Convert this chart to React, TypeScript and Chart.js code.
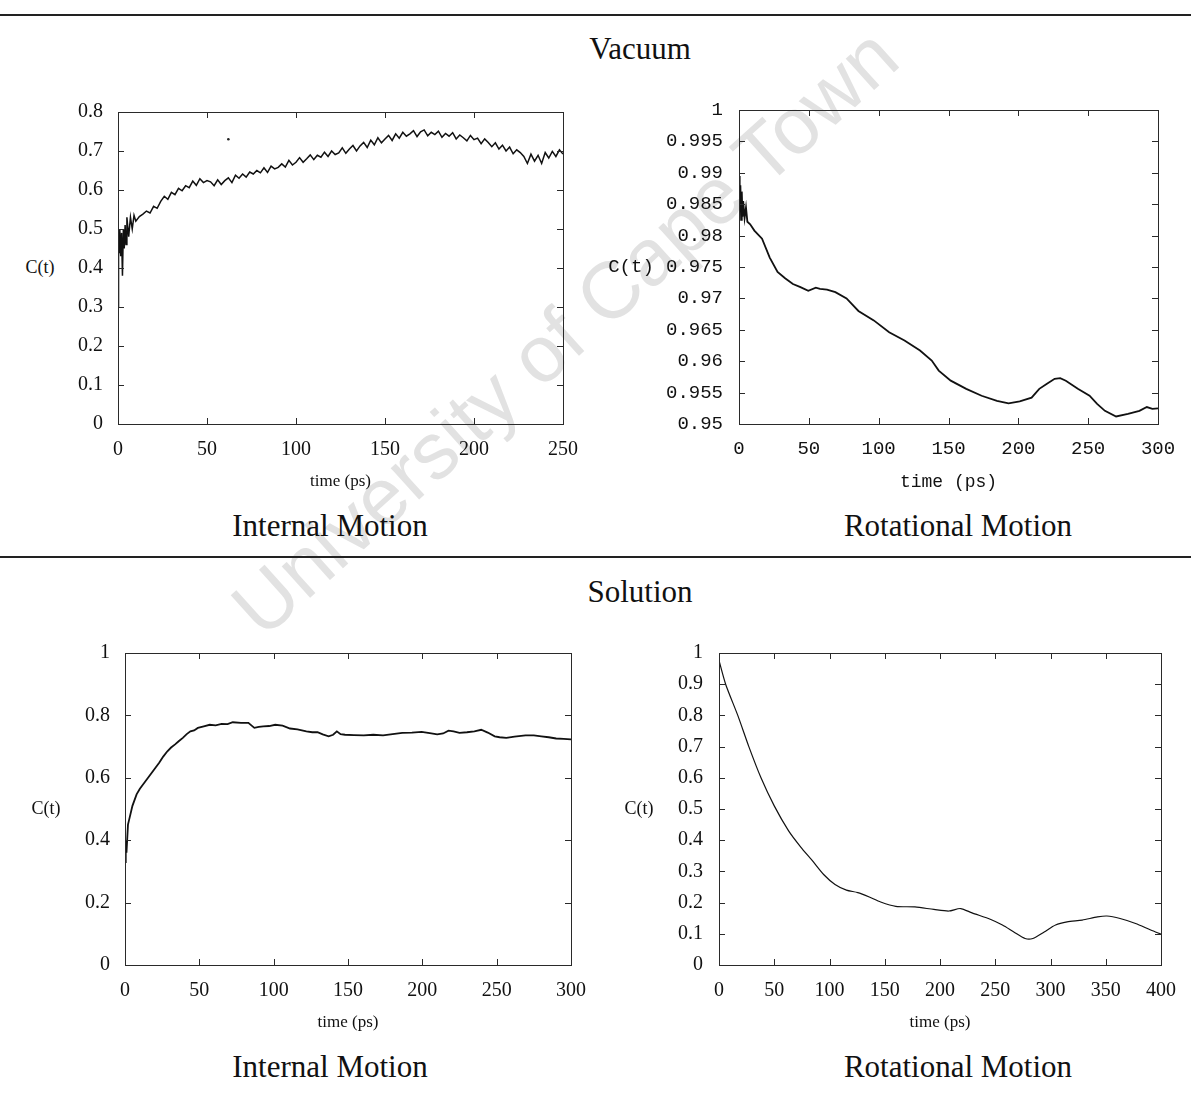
import React, { useEffect, useRef } from "react";
import { Chart, registerables } from "chart.js";
Chart.register(...registerables);

const SERIF = '"Liberation Serif", "Times New Roman", serif';
const MONO = '"Liberation Mono", "Courier New", monospace';
const SANS = '"Liberation Sans", Arial, sans-serif';

// ---- Vacuum, internal motion (noisy) ----
const vacIntTime = [0, 0.3, 0.6, 1, 1.5, 2, 2.5, 3, 3.5, 4, 4.5, 5, 6, 7, 8, 9, 10,
  12, 14, 16, 18, 20, 22, 24, 26, 28, 30, 32, 34, 36, 38, 40, 42, 44, 46, 48, 50,
  52, 54, 56, 58, 60, 62, 64, 66, 68, 70, 72, 74, 76, 78, 80, 82, 84, 86, 88, 90,
  92, 94, 96, 98, 100, 102, 104, 106, 108, 110, 112, 114, 116, 118, 120, 122, 124, 126, 128, 130,
  132, 134, 136, 138, 140, 142, 144, 146, 148, 150, 152, 154, 156, 158, 160, 162, 164, 166, 168, 170,
  172, 174, 176, 178, 180, 182, 184, 186, 188, 190, 192, 194, 196, 198, 200, 202, 204, 206, 208, 210,
  212, 214, 216, 218, 220, 222, 224, 226, 228, 230, 232, 234, 236, 238, 240, 242, 244, 246, 248, 250];
const vacIntC = [0.30, 0.48, 0.44, 0.50, 0.43, 0.49, 0.38, 0.50, 0.45, 0.51, 0.46, 0.53, 0.48, 0.53, 0.50, 0.535, 0.52,
  0.532, 0.538, 0.546, 0.541, 0.558, 0.553, 0.571, 0.584, 0.576, 0.594,
  0.588, 0.604, 0.598, 0.611, 0.606, 0.623, 0.612, 0.629, 0.619, 0.624,
  0.621, 0.611, 0.626, 0.614, 0.624, 0.631, 0.619, 0.638, 0.630, 0.641,
  0.633, 0.646, 0.641, 0.650, 0.644, 0.657, 0.645, 0.661, 0.654, 0.658,
  0.667, 0.659, 0.676, 0.664, 0.671, 0.683, 0.671, 0.680, 0.690, 0.678,
  0.689, 0.684, 0.697, 0.686, 0.700, 0.691, 0.695, 0.708, 0.694, 0.705,
  0.714, 0.700, 0.713, 0.722, 0.709, 0.728, 0.716, 0.734, 0.721, 0.731,
  0.740, 0.727, 0.744, 0.733, 0.748, 0.738, 0.744, 0.752, 0.737, 0.749,
  0.754, 0.739, 0.748, 0.742, 0.751, 0.735, 0.745, 0.738, 0.747, 0.731,
  0.741, 0.734, 0.726, 0.740, 0.729, 0.733, 0.719, 0.731, 0.722, 0.711,
  0.721, 0.705, 0.715, 0.700, 0.710, 0.693, 0.703, 0.696, 0.686, 0.668,
  0.692, 0.674, 0.689, 0.668, 0.696, 0.682, 0.699, 0.686, 0.703, 0.692];
const vacIntOutlierTime = [62];
const vacIntOutlierC = [0.73];

// ---- Vacuum, rotational motion ----
const vacRotTime = [0, 0.5, 1, 1.5, 2, 2.5, 3, 4, 5, 6, 8, 11, 16.5, 22, 27.6, 33, 38.6, 44, 49.6, 55,
  58, 63, 69, 77, 85.5, 96.5, 107.5, 118.5, 129.6, 138, 143, 151.6, 162.7, 173.7, 184.7, 193, 201, 209.5, 215, 220.5,
  226, 230, 234, 242.6, 251, 256.4, 262, 270, 278.5, 286.7, 292, 296, 300];
const vacRotC = [0.9895, 0.984, 0.988, 0.9825, 0.987, 0.983, 0.9855, 0.9828, 0.9845, 0.9822, 0.9818, 0.9808, 0.9795, 0.9765, 0.9742, 0.9732, 0.9723, 0.9718, 0.9712, 0.9717,
  0.9715, 0.9714, 0.971, 0.970, 0.968, 0.9665, 0.9646, 0.9633, 0.9617, 0.9601, 0.9585, 0.9569, 0.9556, 0.9545, 0.9537, 0.9533, 0.9536, 0.9542, 0.9556, 0.9564,
  0.9572, 0.9573, 0.9569, 0.9556, 0.9545, 0.9532, 0.9521, 0.9512, 0.9516, 0.9521, 0.9527, 0.9524, 0.9525];

// ---- Solution, internal motion ----
const solIntTime = [0, 0.5, 1, 2, 2.6, 5, 7.8, 10, 13, 15.5, 18, 20.5, 23, 25.7, 28.5, 31, 33.7, 36.3, 38.9, 41.5,
  44, 46.5, 49, 53, 57, 61, 65, 69, 72.5, 78, 83, 87, 90, 93, 97, 101, 106, 111, 116, 122,
  126, 129.5, 133, 137, 140, 142.5, 145, 148, 154, 160.6, 167, 173.6, 180, 186.5, 193, 199.5, 205, 210, 214, 217.6,
  221, 225, 230, 235, 239.6, 244, 248.7, 252, 256.5, 262, 269.4, 275, 280, 285, 290, 295, 300];
const solIntC = [0.33, 0.40, 0.36, 0.45, 0.462, 0.51, 0.547, 0.565, 0.584, 0.60, 0.616, 0.632, 0.648, 0.668, 0.685, 0.697, 0.707, 0.718, 0.728, 0.740,
  0.749, 0.752, 0.760, 0.765, 0.770, 0.768, 0.773, 0.772, 0.778, 0.776, 0.776, 0.760, 0.763, 0.765, 0.766, 0.770, 0.767, 0.758, 0.755, 0.749,
  0.746, 0.746, 0.739, 0.733, 0.738, 0.749, 0.740, 0.738, 0.737, 0.736, 0.738, 0.736, 0.740, 0.744, 0.745, 0.747, 0.743, 0.739, 0.742, 0.751,
  0.749, 0.744, 0.746, 0.749, 0.754, 0.745, 0.733, 0.730, 0.728, 0.732, 0.736, 0.736, 0.733, 0.730, 0.726, 0.725, 0.723];

// ---- Solution, rotational motion ----
const solRotTime = [0, 6, 17, 27, 38, 50, 63, 74, 84.3, 94.7, 105, 115.3, 125.6, 136, 146.3, 160, 177.3, 194.5, 208,
  218.6, 229, 246, 256.5, 266.8, 277, 284, 294.3, 304.6, 315, 328.7, 342.5, 351, 363, 377, 390.7, 400];
const solRotC = [0.976, 0.9, 0.8, 0.7, 0.6, 0.51, 0.43, 0.378, 0.335, 0.29, 0.258, 0.24, 0.232, 0.218, 0.202, 0.188, 0.186, 0.178, 0.173,
  0.181, 0.167, 0.146, 0.128, 0.106, 0.085, 0.085, 0.106, 0.128, 0.138, 0.144, 0.154, 0.157, 0.149, 0.133, 0.112, 0.099];

const fmt = (v: any) => String(parseFloat(Number(v).toFixed(4)));

const frameTicks = {
  id: "frameTicks",
  afterDatasetsDraw(chart: any) {
    const { ctx, chartArea, scales } = chart;
    const { left, right, top, bottom } = chartArea;
    const len = 6;
    ctx.save();
    ctx.strokeStyle = "#2a2a2a";
    ctx.lineWidth = 1;
    ctx.strokeRect(Math.round(left) + 0.5, Math.round(top) + 0.5, Math.round(right - left), Math.round(bottom - top));
    ctx.beginPath();
    const xs = scales.x;
    xs.ticks.forEach((t: any) => {
      const px = Math.round(xs.getPixelForValue(t.value)) + 0.5;
      ctx.moveTo(px, bottom); ctx.lineTo(px, bottom - len);
      ctx.moveTo(px, top); ctx.lineTo(px, top + len);
    });
    const ys = scales.y;
    ys.ticks.forEach((t: any) => {
      const py = Math.round(ys.getPixelForValue(t.value)) + 0.5;
      ctx.moveTo(left, py); ctx.lineTo(left + len, py);
      ctx.moveTo(right, py); ctx.lineTo(right - len, py);
    });
    ctx.stroke();
    ctx.restore();
  },
};

type PanelProps = {
  left: number; top: number; width: number; height: number;
  yAxisWidth: number; padRight: number; padTop: number; xAxisHeight: number;
  times: number[]; values: number[];
  extraTimes?: number[]; extraValues?: number[];
  xMin: number; xMax: number; xStep: number;
  yMin: number; yMax: number; yStep: number;
  font: string; tickSize: number; titleSize: number; titlePadBottom: number;
  yPad: number; lineWidth: number; tension?: number;
};

function Panel(p: PanelProps) {
  const ref = useRef<HTMLCanvasElement | null>(null);
  useEffect(() => {
    if (!ref.current) return;
    const datasets: any[] = [
      {
        type: "line",
        data: p.times.map((t, i) => ({ x: t, y: p.values[i] })),
        borderColor: "#111",
        borderWidth: p.lineWidth,
        pointRadius: 0,
        tension: p.tension || 0,
        fill: false,
      },
    ];
    if (p.extraTimes && p.extraValues) {
      datasets.push({
        type: "scatter",
        data: p.extraTimes.map((t, i) => ({ x: t, y: p.extraValues![i] })),
        backgroundColor: "#222",
        borderColor: "#222",
        pointRadius: 1.3,
        borderWidth: 0,
      });
    }
    const chart = new Chart(ref.current, {
      type: "line",
      data: { datasets },
      options: {
        animation: false,
        responsive: false,
        maintainAspectRatio: false,
        layout: { padding: { top: p.padTop, right: p.padRight, left: 0, bottom: 0 } },
        plugins: { legend: { display: false }, tooltip: { enabled: false } },
        scales: {
          x: {
            type: "linear",
            min: p.xMin, max: p.xMax,
            grid: { display: false, drawTicks: false },
            border: { display: false },
            afterFit: (s: any) => { s.height = p.xAxisHeight; },
            ticks: {
              stepSize: p.xStep, autoSkip: false, maxRotation: 0, padding: 14,
              color: "#111", font: { family: p.font, size: p.tickSize },
              callback: (v: any) => fmt(v),
            },
            title: {
              display: true, text: "time (ps)", color: "#111",
              font: { family: p.font, size: p.titleSize },
              padding: { top: 0, bottom: p.titlePadBottom },
            },
          },
          y: {
            type: "linear",
            min: p.yMin, max: p.yMax,
            grid: { display: false, drawTicks: false },
            border: { display: false },
            afterFit: (s: any) => { s.width = p.yAxisWidth; },
            ticks: {
              stepSize: p.yStep, autoSkip: false, padding: p.yPad,
              color: "#111", font: { family: p.font, size: p.tickSize },
              callback: (v: any) => fmt(v),
            },
          },
        },
      } as any,
      plugins: [frameTicks],
    });
    return () => chart.destroy();
  }, []);
  return (
    <canvas
      ref={ref}
      width={p.width}
      height={p.height}
      style={{ position: "absolute", left: p.left, top: p.top, width: p.width, height: p.height, zIndex: 1 }}
    />
  );
}

function Label(props: { x: number; y: number; text: string; size: number; family: string }) {
  return (
    <div
      style={{
        position: "absolute", left: props.x, top: props.y, transform: "translate(-50%, -50%)",
        fontFamily: props.family, fontSize: props.size, lineHeight: 1, whiteSpace: "nowrap", color: "#111", zIndex: 2,
      }}
    >
      {props.text}
    </div>
  );
}

export default function App() {
  return (
    <div style={{ position: "absolute", left: 0, top: 0, width: 1191, height: 1094, background: "#fff", overflow: "hidden" }}>
      <div
        style={{
          position: "absolute", left: 565, top: 332, transform: "translate(-50%, -50%) rotate(-42deg)",
          fontFamily: SANS, fontSize: 80, color: "#e2e2e2", whiteSpace: "nowrap", zIndex: 0, lineHeight: 1,
        }}
      >
        University of Cape Town
      </div>

      <div style={{ position: "absolute", left: 0, top: 14, width: 1191, height: 2, background: "#222", zIndex: 2 }} />
      <div style={{ position: "absolute", left: 0, top: 556, width: 1191, height: 2, background: "#222", zIndex: 2 }} />

      <Label x={640} y={48} text="Vacuum" size={31} family={SERIF} />
      <Label x={640} y={591} text="Solution" size={31} family={SERIF} />

      <Panel left={60} top={82} width={540} height={418} yAxisWidth={58} padRight={37} padTop={30} xAxisHeight={76}
        times={vacIntTime} values={vacIntC} extraTimes={vacIntOutlierTime} extraValues={vacIntOutlierC}
        xMin={0} xMax={250} xStep={50} yMin={0} yMax={0.8} yStep={0.1}
        font={SERIF} tickSize={20} titleSize={17} titlePadBottom={8} yPad={15} lineWidth={1.5} />
      <Label x={40} y={267} text="C(t)" size={18} family={SERIF} />
      <Label x={330} y={525} text="Internal Motion" size={31} family={SERIF} />

      <Panel left={620} top={80} width={570} height={420} yAxisWidth={119} padRight={32} padTop={30} xAxisHeight={76}
        times={vacRotTime} values={vacRotC}
        xMin={0} xMax={300} xStep={50} yMin={0.95} yMax={1} yStep={0.005}
        font={MONO} tickSize={19} titleSize={18} titlePadBottom={7} yPad={16} lineWidth={1.8} />
      <Label x={631} y={267} text="C(t)" size={19} family={MONO} />
      <Label x={958} y={525} text="Rotational Motion" size={31} family={SERIF} />

      <Panel left={60} top={623} width={540} height={418} yAxisWidth={65} padRight={29} padTop={30} xAxisHeight={76}
        times={solIntTime} values={solIntC}
        xMin={0} xMax={300} xStep={50} yMin={0} yMax={1} yStep={0.2}
        font={SERIF} tickSize={20} titleSize={17} titlePadBottom={8} yPad={15} lineWidth={1.8} />
      <Label x={46} y={808} text="C(t)" size={18} family={SERIF} />
      <Label x={330} y={1066} text="Internal Motion" size={31} family={SERIF} />

      <Panel left={620} top={623} width={570} height={418} yAxisWidth={99} padRight={26} padTop={30} xAxisHeight={76}
        times={solRotTime} values={solRotC}
        xMin={0} xMax={400} xStep={50} yMin={0} yMax={1} yStep={0.1}
        font={SERIF} tickSize={20} titleSize={17} titlePadBottom={8} yPad={16} lineWidth={1.2} tension={0.25} />
      <Label x={639} y={808} text="C(t)" size={18} family={SERIF} />
      <Label x={958} y={1066} text="Rotational Motion" size={31} family={SERIF} />
    </div>
  );
}
